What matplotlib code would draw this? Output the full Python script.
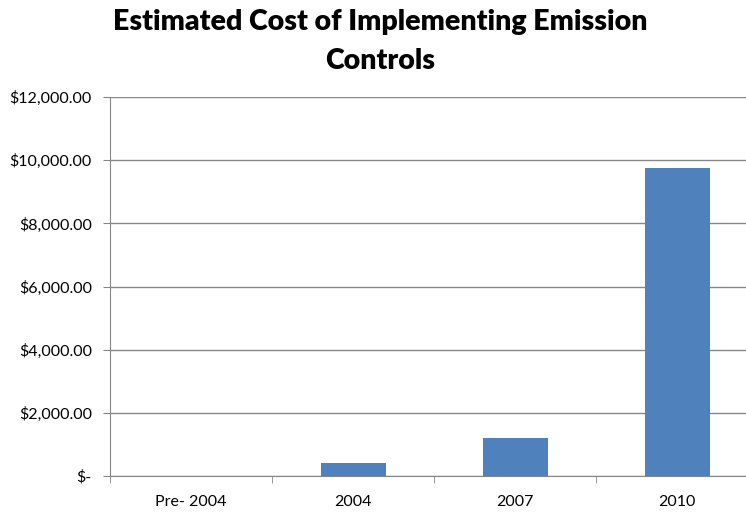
import matplotlib.pyplot as plt
import numpy as np

categories = ['Pre- 2004', '2004', '2007', '2010']
costs = [0, 400, 1200, 9750]
y_ticks = [0, 2000, 4000, 6000, 8000, 10000, 12000]


def money(v):
    if v == 0:
        return '$-'
    return '${:,.2f}'.format(v)


plt.rcParams['font.family'] = ['Lato', 'DejaVu Sans']

fig = plt.figure(figsize=(7.46, 5.14), dpi=100)
ax = fig.add_axes([0.1475, 0.074, 0.869, 0.737])

x = np.arange(len(categories))
ax.bar(x, costs, width=0.4, color='#4F81BD', zorder=3)

ax.set_xlim(-0.5, len(categories) - 0.5)
ax.set_ylim(0, 12000)

# gridlines
ax.set_yticks(y_ticks)
ax.set_yticklabels([money(v) for v in y_ticks], fontsize=11.5)
ax.yaxis.grid(True, color='#868686', linewidth=1, zorder=0)
ax.tick_params(axis='y', length=5, color='#868686', pad=8)

# category labels centred, tick marks at boundaries
ax.set_xticks(x)
ax.set_xticklabels(categories, fontsize=11.5)
ax.set_xticks(np.arange(len(categories) + 1) - 0.5, minor=True)
ax.tick_params(axis='x', which='major', length=0, pad=14)
ax.tick_params(axis='x', which='minor', length=5, color='#868686')

for side in ['top', 'right']:
    ax.spines[side].set_visible(False)
for side in ['left', 'bottom']:
    ax.spines[side].set_color('#868686')

fig.text(0.51, 0.982, 'Estimated Cost of Implementing Emission\nControls',
         ha='center', va='top', fontsize=20.5, fontweight='heavy',
         linespacing=1.6)

fig.savefig('out.png', dpi=100)
